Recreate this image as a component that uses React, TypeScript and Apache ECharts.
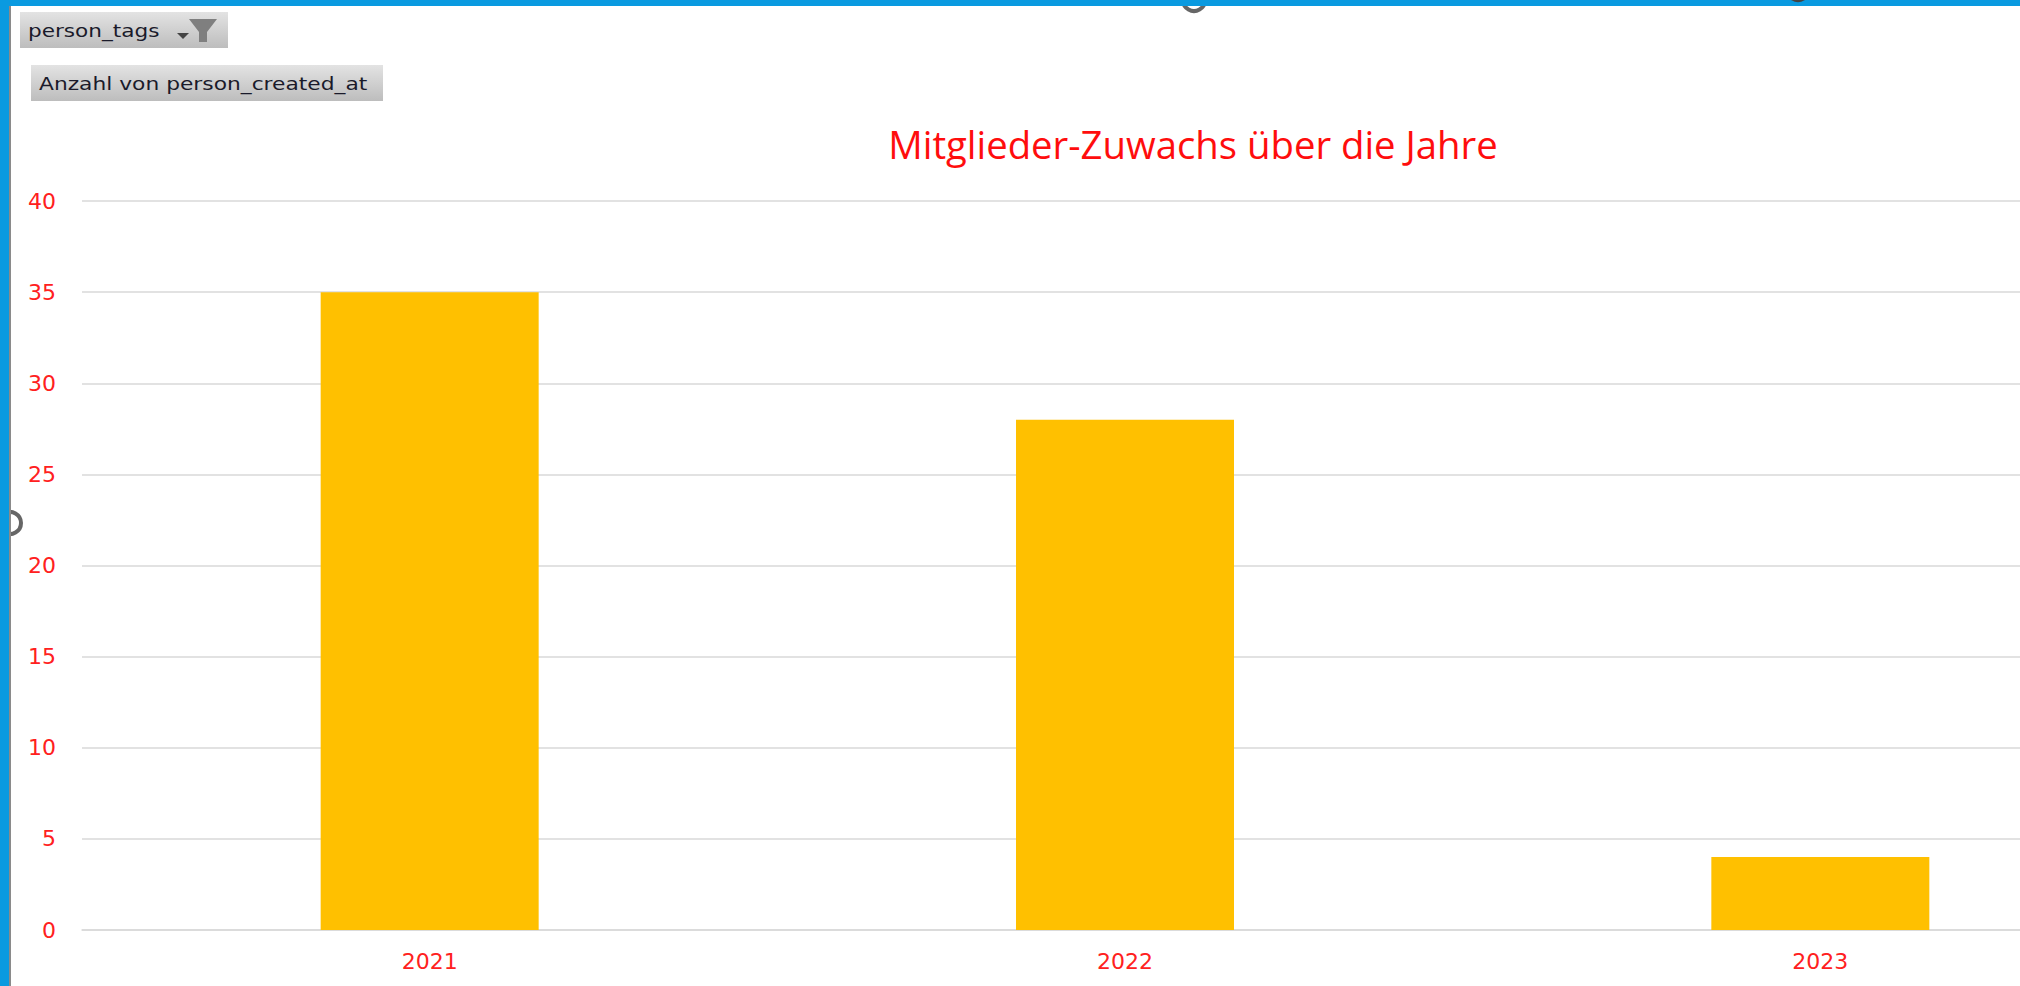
import React, { useEffect, useRef } from "react";
import * as echarts from "echarts";

const categories = ["2021", "2022", "2023"];
const memberCounts = [35, 28, 4];
const chartTitle = "Mitglieder-Zuwachs über die Jahre";
const filterLabel = "person_tags";
const valueLabel = "Anzahl von person_created_at";

const buttonFill = {
  type: "linear", x: 0, y: 0, x2: 0, y2: 1,
  colorStops: [{ offset: 0, color: "#e3e3e3" }, { offset: 1, color: "#bdbdbd" }],
};
const ring = (cx: number, cy: number, color: string) => ({
  type: "circle", shape: { cx, cy, r: 11 }, style: { fill: "#ffffff", stroke: color, lineWidth: 4 },
});

export default function App() {
  const ref = useRef<HTMLDivElement>(null);
  useEffect(() => {
    const chart = echarts.init(ref.current!, null, { renderer: "svg" });
    chart.setOption({
      animation: false,
      backgroundColor: "#ffffff",
      title: {
        text: chartTitle, left: 1188, top: 120, textAlign: "center",
        textStyle: { color: "#ff0d0d", fontFamily: "Open Sans", fontSize: 38.3, fontWeight: "normal" },
      },
      grid: { left: 82, top: 201, width: 2086, height: 729 },
      xAxis: {
        type: "category", data: categories,
        axisTick: { show: false },
        axisLine: { lineStyle: { color: "#d9d9d9", width: 1.5 } },
        axisLabel: { color: "#ff2020", fontFamily: "DejaVu Sans", fontSize: 22, margin: 20 },
      },
      yAxis: {
        type: "value", min: 0, max: 40, interval: 5,
        axisLine: { show: false }, axisTick: { show: false },
        splitLine: { lineStyle: { color: "#d9d9d9", width: 1.5 } },
        axisLabel: { color: "#ff2020", fontFamily: "DejaVu Sans", fontSize: 22, margin: 26 },
      },
      series: [{ type: "bar", data: memberCounts, barWidth: 218, itemStyle: { color: "#ffc000" } }],
      graphic: [
        ring(10, 523, "#666666"),
        ring(1194, 0, "#666666"),
        { type: "rect", shape: { x: 9, y: 6, width: 2, height: 980 }, style: { fill: "#8a8a8a" } },
        { type: "rect", shape: { x: 0, y: 0, width: 9, height: 986 }, style: { fill: "#0a9ae0" } },
        { type: "rect", shape: { x: 0, y: 0, width: 2020, height: 6 }, style: { fill: "#0a9ae0" } },
        ring(1798, -11, "#444444"),
        { type: "rect", shape: { x: 20, y: 12, width: 208, height: 36 }, style: { fill: buttonFill } },
        { type: "text", x: 28, y: 31, scaleX: 1.2, style: { text: filterLabel, fill: "#1a1a2a", font: "18px 'DejaVu Sans'", textVerticalAlign: "middle" } },
        { type: "polygon", shape: { points: [[177, 33], [189, 33], [183, 39]] }, style: { fill: "#444444" } },
        { type: "polygon", shape: { points: [[189, 19], [217, 19], [207, 32], [207, 42], [199, 42], [199, 32]] }, style: { fill: "#7f7f7f" } },
        { type: "rect", shape: { x: 31, y: 65, width: 352, height: 36 }, style: { fill: buttonFill } },
        { type: "text", x: 39, y: 84, scaleX: 1.21, style: { text: valueLabel, fill: "#1a1a2a", font: "18px 'DejaVu Sans'", textVerticalAlign: "middle" } },
      ],
    });
    return () => chart.dispose();
  }, []);
  return (
    <div style={{ position: "absolute", left: 0, top: 0, width: 2020, height: 986, overflow: "hidden" }}>
      <div ref={ref} style={{ width: 2200, height: 986 }} />
    </div>
  );
}
